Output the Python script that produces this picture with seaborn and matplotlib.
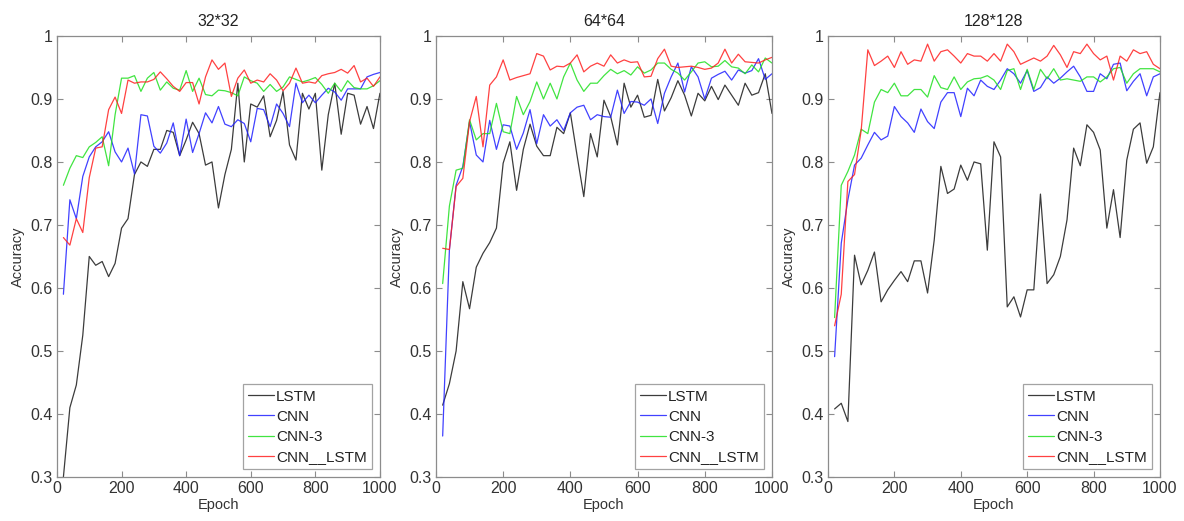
import numpy as np
import pandas as pd
import matplotlib
matplotlib.use("Agg")
import matplotlib.pyplot as plt
import seaborn as sns
from matplotlib.ticker import FuncFormatter

# Epochs (x axis) and accuracy curves
epochs = np.arange(20, 1001, 20)
models = ["LSTM", "CNN", "CNN-3", "CNN__LSTM"]
titles = ["32*32", "64*64", "128*128"]

# 32*32
lstm_32 = [0.30, 0.41, 0.446, 0.525, 0.65, 0.636, 0.642, 0.618, 0.639, 0.695,
           0.71, 0.78, 0.80, 0.793, 0.82, 0.82, 0.85, 0.847, 0.81, 0.835,
           0.863, 0.845, 0.795, 0.80, 0.727, 0.78, 0.82, 0.925, 0.80, 0.892,
           0.887, 0.905, 0.84, 0.866, 0.912, 0.827, 0.803, 0.909, 0.884, 0.909,
           0.787, 0.875, 0.925, 0.844, 0.909, 0.906, 0.86, 0.888, 0.853, 0.909]
cnn_32 = [0.59, 0.74, 0.71, 0.777, 0.808, 0.824, 0.832, 0.848, 0.816, 0.80,
          0.822, 0.781, 0.875, 0.873, 0.825, 0.814, 0.83, 0.862, 0.81, 0.868,
          0.815, 0.845, 0.878, 0.862, 0.888, 0.86, 0.856, 0.867, 0.861, 0.832,
          0.885, 0.883, 0.856, 0.892, 0.877, 0.856, 0.925, 0.894, 0.906, 0.894,
          0.906, 0.917, 0.911, 0.898, 0.916, 0.916, 0.916, 0.935, 0.939, 0.942]
cnn3_32 = [0.763, 0.79, 0.81, 0.807, 0.824, 0.831, 0.84, 0.794, 0.875, 0.933,
           0.933, 0.937, 0.912, 0.933, 0.942, 0.914, 0.927, 0.917, 0.914, 0.945,
           0.912, 0.933, 0.907, 0.905, 0.914, 0.913, 0.91, 0.905, 0.935, 0.929,
           0.925, 0.912, 0.923, 0.912, 0.919, 0.935, 0.931, 0.927, 0.93, 0.934,
           0.923, 0.909, 0.925, 0.912, 0.929, 0.918, 0.916, 0.916, 0.921, 0.929]
cnn_lstm_32 = [0.68, 0.668, 0.71, 0.688, 0.775, 0.822, 0.824, 0.883, 0.903, 0.877,
               0.93, 0.925, 0.927, 0.927, 0.931, 0.943, 0.932, 0.92, 0.912, 0.926,
               0.926, 0.892, 0.935, 0.962, 0.947, 0.957, 0.904, 0.933, 0.946, 0.925,
               0.93, 0.927, 0.94, 0.93, 0.913, 0.925, 0.949, 0.925, 0.927, 0.925,
               0.937, 0.94, 0.942, 0.947, 0.941, 0.953, 0.927, 0.933, 0.92, 0.935]

# 64*64
lstm_64 = [0.414, 0.448, 0.50, 0.61, 0.567, 0.633, 0.655, 0.672, 0.695, 0.798,
           0.832, 0.755, 0.82, 0.86, 0.825, 0.81, 0.81, 0.855, 0.845, 0.878,
           0.81, 0.745, 0.845, 0.808, 0.898, 0.872, 0.827, 0.925, 0.887, 0.906,
           0.871, 0.874, 0.931, 0.881, 0.902, 0.929, 0.906, 0.873, 0.909, 0.897,
           0.92, 0.899, 0.922, 0.906, 0.89, 0.925, 0.906, 0.91, 0.94, 0.877]
cnn_64 = [0.365, 0.66, 0.763, 0.793, 0.864, 0.811, 0.80, 0.866, 0.82, 0.859,
          0.857, 0.82, 0.846, 0.883, 0.829, 0.875, 0.857, 0.867, 0.85, 0.878,
          0.887, 0.89, 0.867, 0.875, 0.872, 0.871, 0.914, 0.877, 0.896, 0.895,
          0.89, 0.90, 0.861, 0.909, 0.935, 0.957, 0.911, 0.951, 0.935, 0.90,
          0.933, 0.939, 0.944, 0.93, 0.946, 0.941, 0.945, 0.964, 0.931, 0.94]
cnn3_64 = [0.607, 0.73, 0.787, 0.79, 0.867, 0.835, 0.845, 0.845, 0.893, 0.848,
           0.845, 0.904, 0.875, 0.896, 0.927, 0.90, 0.925, 0.90, 0.935, 0.957,
           0.93, 0.912, 0.925, 0.925, 0.937, 0.947, 0.94, 0.945, 0.938, 0.951,
           0.941, 0.946, 0.957, 0.957, 0.947, 0.941, 0.93, 0.943, 0.957, 0.959,
           0.951, 0.952, 0.961, 0.951, 0.949, 0.94, 0.954, 0.943, 0.965, 0.957]
cnn_lstm_64 = [0.663, 0.661, 0.761, 0.774, 0.864, 0.904, 0.824, 0.922, 0.935, 0.962,
               0.93, 0.934, 0.937, 0.94, 0.972, 0.968, 0.946, 0.952, 0.951, 0.957,
               0.97, 0.943, 0.952, 0.957, 0.952, 0.97, 0.957, 0.962, 0.958, 0.959,
               0.935, 0.936, 0.964, 0.979, 0.952, 0.95, 0.951, 0.952, 0.95, 0.947,
               0.949, 0.957, 0.979, 0.957, 0.971, 0.959, 0.958, 0.957, 0.962, 0.966]

# 128*128
lstm_128 = [0.408, 0.417, 0.388, 0.652, 0.605, 0.628, 0.657, 0.578, 0.597, 0.612,
            0.626, 0.61, 0.643, 0.643, 0.592, 0.676, 0.793, 0.75, 0.757, 0.795,
            0.771, 0.80, 0.797, 0.66, 0.832, 0.808, 0.570, 0.586, 0.554, 0.597,
            0.597, 0.749, 0.607, 0.621, 0.65, 0.708, 0.822, 0.794, 0.859, 0.847,
            0.819, 0.695, 0.756, 0.68, 0.803, 0.852, 0.862, 0.798, 0.824, 0.91]
cnn_128 = [0.491, 0.671, 0.74, 0.795, 0.806, 0.827, 0.847, 0.835, 0.841, 0.888,
           0.872, 0.862, 0.847, 0.884, 0.864, 0.853, 0.895, 0.91, 0.91, 0.872,
           0.917, 0.905, 0.93, 0.92, 0.915, 0.93, 0.948, 0.94, 0.925, 0.945,
           0.912, 0.918, 0.935, 0.925, 0.933, 0.943, 0.952, 0.935, 0.912, 0.912,
           0.94, 0.932, 0.955, 0.957, 0.913, 0.928, 0.94, 0.905, 0.935, 0.94]
cnn3_128 = [0.553, 0.763, 0.785, 0.811, 0.852, 0.845, 0.895, 0.915, 0.91, 0.925,
            0.905, 0.905, 0.915, 0.915, 0.903, 0.937, 0.918, 0.915, 0.935, 0.915,
            0.927, 0.932, 0.933, 0.937, 0.93, 0.915, 0.945, 0.948, 0.915, 0.947,
            0.915, 0.947, 0.932, 0.948, 0.93, 0.932, 0.93, 0.928, 0.935, 0.935,
            0.927, 0.935, 0.948, 0.95, 0.925, 0.94, 0.948, 0.948, 0.948, 0.943]
cnn_lstm_128 = [0.54, 0.59, 0.769, 0.78, 0.85, 0.978, 0.953, 0.96, 0.968, 0.95,
                0.975, 0.955, 0.962, 0.96, 0.987, 0.96, 0.975, 0.978, 0.968, 0.957,
                0.972, 0.968, 0.968, 0.96, 0.972, 0.96, 0.987, 0.975, 0.955, 0.96,
                0.965, 0.96, 0.968, 0.985, 0.97, 0.95, 0.975, 0.972, 0.987, 0.972,
                0.962, 0.968, 0.93, 0.968, 0.96, 0.978, 0.972, 0.975, 0.955, 0.948]

panels = [
    [lstm_32, cnn_32, cnn3_32, cnn_lstm_32],
    [lstm_64, cnn_64, cnn3_64, cnn_lstm_64],
    [lstm_128, cnn_128, cnn3_128, cnn_lstm_128],
]

palette = {"LSTM": "#1a1a1a", "CNN": "#2020ff", "CNN-3": "#20e020", "CNN__LSTM": "#ff2020"}

sns.set_style("ticks")
plt.rcParams["font.family"] = ["Liberation Sans", "DejaVu Sans"]

fig = plt.figure(figsize=(11.84, 5.21), dpi=100)
bottom, height = 0.0845, 0.8465
lefts = [0.0481, 0.3682, 0.6993]
widths = [0.2728, 0.2838, 0.2804]

text_col = "#333333"
edge_col = "#8c8c8c"

for i, series in enumerate(panels):
    ax = fig.add_axes([lefts[i], bottom, widths[i], height])
    df = pd.DataFrame({
        "Epoch": np.tile(epochs, len(models)),
        "Accuracy": np.concatenate(series),
        "model": np.repeat(models, len(epochs)),
    })
    sns.lineplot(data=df, x="Epoch", y="Accuracy", hue="model", hue_order=models,
                 palette=palette, linewidth=0.9, alpha=0.85, ax=ax)
    ax.set_xlim(0, 1000)
    ax.set_ylim(0.3, 1.0)
    ax.set_xticks(np.arange(0, 1001, 200))
    ax.set_yticks(np.arange(0.3, 1.01, 0.1))
    ax.yaxis.set_major_formatter(FuncFormatter(lambda v, p: f"{v:g}"))
    ax.tick_params(direction="in", bottom=True, left=True, top=True, right=True,
                   length=4, width=0.8, color=edge_col, labelcolor=text_col,
                   labelsize=11.5, pad=3)
    for sp in ax.spines.values():
        sp.set_visible(True)
        sp.set_color(edge_col)
        sp.set_linewidth(0.9)
    ax.set_title(titles[i], fontsize=11.5, color="#222222", pad=7)
    ax.set_xlabel("Epoch", fontsize=10.5, color=text_col, labelpad=1)
    ax.set_ylabel("Accuracy", fontsize=10.5, color=text_col, labelpad=4)
    handles, labels = ax.get_legend_handles_labels()
    leg = ax.legend(handles, labels, loc="lower right", fontsize=11, frameon=True,
                    fancybox=False, handlelength=1.7, handletextpad=0.15,
                    borderpad=0.35, labelspacing=0.4, borderaxespad=0.5)
    leg.get_frame().set_edgecolor(edge_col)
    leg.get_frame().set_linewidth(0.9)
    for t in leg.get_texts():
        t.set_color("#222222")

fig.savefig("out.png", dpi=100)
